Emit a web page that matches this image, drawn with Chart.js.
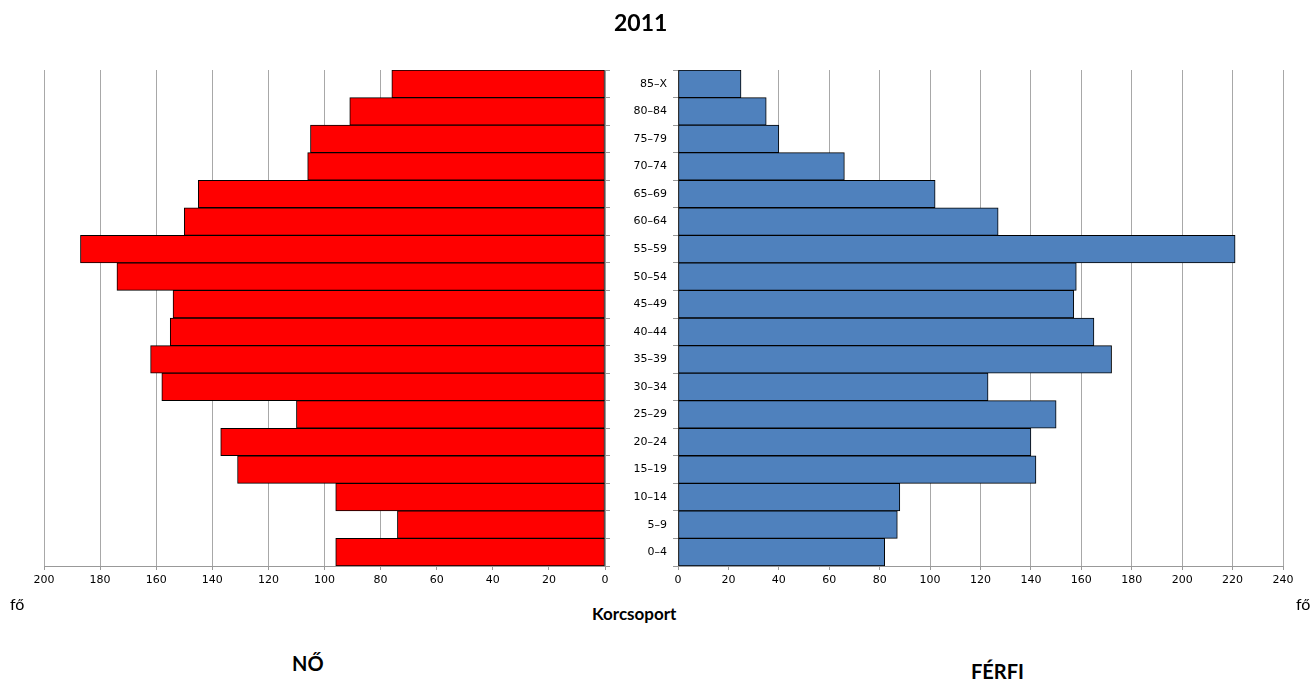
<!DOCTYPE html>
<html>
<head>
<meta charset="utf-8">
<script src="https://cdn.jsdelivr.net/npm/chart.js@4.4.1/dist/chart.umd.min.js"></script>
<style>
  body { margin: 0; background: #fff; width: 1315px; height: 684px; position: relative; overflow: hidden; font-family: Lato, "Open Sans", sans-serif; }
  canvas { position: absolute; top: 0; }
  .txt { position: absolute; color: #000; white-space: nowrap; }
  .bold { font-weight: bold; }
</style>
</head>
<body>
<canvas id="chart-no" width="625" height="600" style="left:0"></canvas>
<canvas id="chart-ferfi" width="695" height="600" style="left:620px"></canvas>

<div class="txt bold" style="left:614px; top:8px; font-size:23px;">2011</div>
<div class="txt" style="left:10px; top:594px; font-size:16px;">fő</div>
<div class="txt" style="left:1296px; top:594px; font-size:16px;">fő</div>
<div class="txt bold" style="left:592px; top:603px; font-size:17px;">Korcsoport</div>
<div class="txt bold" style="left:292px; top:651px; font-size:20px;">NŐ</div>
<div class="txt bold" style="left:971px; top:659px; font-size:20px;">FÉRFI</div>

<script>
const ageGroups = ["85–X", "80–84", "75–79", "70–74", "65–69", "60–64", "55–59", "50–54", "45–49",
  "40–44", "35–39", "30–34", "25–29", "20–24", "15–19", "10–14", "5–9", "0–4"];
const femaleValues = [76, 91, 105, 106, 145, 150, 187, 174, 154, 155, 162, 158, 110, 137, 131, 96, 74, 96];
const maleValues = [25, 35, 40, 66, 102, 127, 221, 158, 157, 165, 172, 123, 150, 140, 142, 88, 87, 82];
const femaleMax = 200;
const maleMax = 240;

const GRID = "#a8a8a8";
const TICK_FONT = { family: "DejaVu Sans", size: 11 };

function xAxis(max, reverse, height) {
  return {
    type: "linear",
    position: "bottom",
    min: 0,
    max: max,
    reverse: reverse,
    ticks: { stepSize: 20, color: "#000", font: TICK_FONT, padding: 4, maxRotation: 0 },
    grid: { color: GRID, lineWidth: 1, tickLength: 4, tickColor: "#999" },
    border: { color: "#999" },
    afterFit: (scale) => { scale.height = height; },
  };
}

function makeChart(id, values, color, max, opts) {
  const ctx = document.getElementById(id);
  return new Chart(ctx, {
    type: "bar",
    data: {
      labels: ageGroups,
      datasets: [
        {
          data: values,
          backgroundColor: color,
          borderColor: "#000",
          borderWidth: 1,
          borderSkipped: false,
          barPercentage: 1,
          categoryPercentage: 1,
        },
      ],
    },
    options: {
      indexAxis: "y",
      responsive: false,
      animation: false,
      layout: { padding: opts.padding },
      plugins: {
        legend: { display: false },
        tooltip: { enabled: false },
      },
      scales: {
        x: xAxis(max, opts.reverse, 34),
        y: {
          position: opts.yPos,
          ticks: { display: opts.showLabels, color: "#000", font: TICK_FONT, padding: 6 },
          grid: { drawOnChartArea: false, tickLength: 5, tickColor: "#999", offset: true },
          border: { color: "#999" },
          afterFit: (scale) => { scale.width = opts.yWidth; },
        },
      },
    },
  });
}

makeChart("chart-no", femaleValues, "#ff0000", femaleMax, {
  reverse: true,
  yPos: "right",
  showLabels: false,
  yWidth: 20,
  padding: { left: 44, top: 70, right: 0, bottom: 0 },
});

makeChart("chart-ferfi", maleValues, "#4f81bd", maleMax, {
  reverse: false,
  yPos: "left",
  showLabels: true,
  yWidth: 58,
  padding: { left: 0, top: 70, right: 32, bottom: 0 },
});
</script>
</body>
</html>
